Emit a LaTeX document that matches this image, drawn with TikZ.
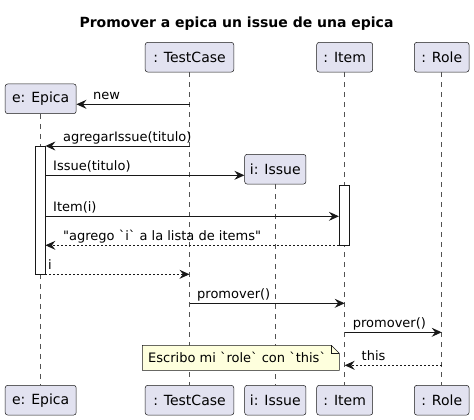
\documentclass[tikz,border=0pt]{standalone}
\usepackage{fontspec}
\setmainfont{DejaVu Sans}[Ligatures=TeXOff]
\usepackage{tikz}
\usetikzlibrary{arrows.meta,positioning,calc}

\definecolor{partfill}{HTML}{E2E2F0}
\definecolor{umlline}{HTML}{181818}
\definecolor{notefill}{HTML}{FEFFDD}

\tikzset{
  part/.style={draw=umlline,fill=partfill,rounded corners=2.5pt,line width=0.5pt,
    minimum height=29.7pt,inner sep=0pt,font=\fontsize{14}{16}\selectfont},
  life/.style={draw=umlline!75,line width=0.5pt,dash pattern=on 5pt off 5pt},
  actbox/.style={draw=umlline,fill=white,line width=0.8pt,inner sep=0pt},
  msg/.style={draw=umlline,line width=1pt,-{Stealth[length=10pt,width=9pt,inset=3.5pt]}},
  ret/.style={msg,dash pattern=on 2pt off 2pt},
  lbl/.style={anchor=base west,inner sep=0pt,font=\fontsize{13}{15}\selectfont},
}

\begin{document}
\begin{tikzpicture}[x=1pt,y=-1pt]
  \useasboundingbox (0,0) rectangle (474,420);
  \node [font=\bfseries\fontsize{14}{16}\selectfont] (title) at (236.5,23.5)
    {Promover a epica un issue de una epica};

  % participants, top row
  \node [part,minimum width=88.6pt] (tcTop) at (189.5,57.2) {: TestCase};
  \node [part,minimum width=56pt] (itTop) at (344.7,57.2) {: Item};
  \node [part,minimum width=54.7pt] (roTop) at (441.7,57.2) {: Role};
  \node [part,minimum width=71pt] (epTop) at (40.7,98.8) {e: Epica};
  \node [part,minimum width=61.3pt] (isTop) at (275.3,169.2) {i: Issue};

  % participants, bottom row
  \node [part,minimum width=71pt] (epBot) at (40.7,400.2) {e: Epica};
  \node [part,minimum width=88.6pt] (tcBot) at (189.5,400.2) {: TestCase};
  \node [part,minimum width=61.3pt] (isBot) at (275.3,400.2) {i: Issue};
  \node [part,minimum width=56pt] (itBot) at (344.7,400.2) {: Item};
  \node [part,minimum width=54.7pt] (roBot) at (441.7,400.2) {: Role};

  \foreach \p in {ep,tc,is,it,ro}
    \draw [life] (\p Top) -- (\p Bot);

  % activations
  \node [actbox,minimum width=9.3pt,minimum height=128pt] (epAct) at (40.35,210.3) {};
  \node [actbox,minimum width=10pt,minimum height=60.3pt] (itAct) at (344.3,215.15) {};

  % message rows
  \coordinate (r1) at (0,104.3);
  \coordinate (r2) at (0,146);
  \coordinate (r3) at (0,175.3);
  \coordinate (r4) at (0,216.3);
  \coordinate (r5) at (0,245.3);
  \coordinate (r6) at (0,274.3);
  \coordinate (r7) at (0,303.3);
  \coordinate (r8) at (0,332.3);
  \coordinate (r9) at (0,365.3);

  \draw [msg] (tcTop |- r1) -- (epTop.east |- r1);
  \node [lbl] (lNew) at (93,99.3) {new};
  \draw [msg] (tcTop |- r2) -- (epAct.east |- r2);
  \node [lbl] (lAgr) at (63,141) {agregarIssue(titulo)};
  \draw [msg] (epAct.east |- r3) -- (isTop.west |- r3);
  \node [lbl] (lIss) at (53,170.3) {Issue(titulo)};
  \draw [msg] (epAct.east |- r4) -- (itAct.west |- r4);
  \node [lbl] (lItem) at (53,211.3) {Item(i)};
  \draw [ret] (itAct.west |- r5) -- (epAct.east |- r5);
  \node [lbl] (lList) at (63,240.3) {"agrego `i` a la lista de items"};
  \draw [ret] (epAct.east |- r6) -- (tcTop |- r6);
  \node [lbl] (lI) at (48,269.3) {i};
  \draw [msg] (tcTop |- r7) -- (itTop |- r7);
  \node [lbl] (lProm) at (197,298.3) {promover()};
  \draw [msg] (itTop |- r8) -- (roTop |- r8);
  \node [lbl] (lProm2) at (352.7,327.3) {promover()};
  \draw [ret] (roTop |- r9) -- (itTop |- r9);
  \node [lbl] (lThis) at (361.5,360.3) {this};

  % note
  \draw [draw=umlline,fill=notefill,line width=0.5pt]
    (142.3,345.3) -- (331.3,345.3) -- (339.3,353.3) -- (339.3,370.3)
    -- (142.3,370.3) -- cycle;
  \draw [draw=umlline,line width=0.5pt] (331.3,345.3) -- (331.3,353.3) -- (339.3,353.3);
  \node [font=\fontsize{13}{15}\selectfont,anchor=base west,inner sep=0pt] (note)
    at (148,362) {Escribo mi `role` con `this`};
\end{tikzpicture}
\end{document}
